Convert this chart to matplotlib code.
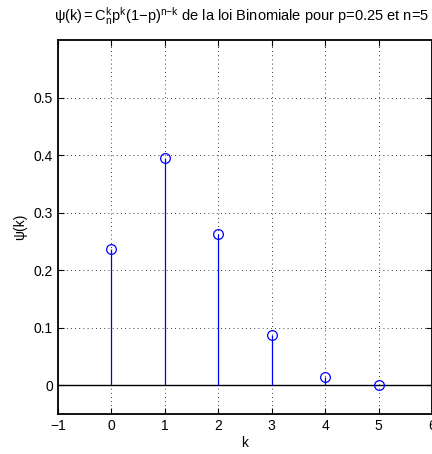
import matplotlib
matplotlib.use('Agg')
import matplotlib.pyplot as plt
from math import comb

n = 5
p = 0.25
k = list(range(n + 1))
psi = [comb(n, i) * p ** i * (1 - p) ** (n - i) for i in k]

plt.rcParams['font.family'] = ['Liberation Sans', 'DejaVu Sans']
plt.rcParams['mathtext.fontset'] = 'custom'
plt.rcParams['mathtext.rm'] = 'Liberation Sans'
plt.rcParams['mathtext.it'] = 'Liberation Sans'
plt.rcParams['mathtext.sf'] = 'Liberation Sans'

fig = plt.figure(figsize=(4.32, 4.54), dpi=100)
ax = fig.add_axes([0.134, 0.088, 0.866, 0.824])

ml, sl, bl = ax.stem(k, psi, linefmt='b-', markerfmt='bo', basefmt='k-')
ml.set_markerfacecolor('none')
ml.set_markersize(7)
ml.set_markeredgewidth(0.9)
sl.set_linewidth(0.9)

ax.set_xlim(-1, 6)
ax.set_ylim(-0.05, 0.6)
# baseline runs across the whole axis like in MATLAB
bl.set_xdata(ax.get_xlim())
bl.set_linewidth(1.0)
bl.set_zorder(1)

ax.set_xticks(range(-1, 7))
ax.set_xticklabels(['\u22121'] + [str(i) for i in range(0, 7)])
ax.set_yticks([0, 0.1, 0.2, 0.3, 0.4, 0.5])
ax.set_yticklabels(['0', '0.1', '0.2', '0.3', '0.4', '0.5'])
ax.grid(True, linestyle=(0, (1, 4)), color='k', linewidth=0.6)
ax.set_axisbelow(True)
ax.tick_params(direction='in', top=True, right=True, labelsize=10, length=4, width=0.8)
for s in ax.spines.values():
    s.set_linewidth(1.3)

ax.set_xlabel('k', fontsize=10, labelpad=2)
ax.set_ylabel('\u03c8(k)', fontsize=10, labelpad=5)
ax.set_title(r'$\mathrm{\psi(k)=C_n^k p^k(1{-}p)^{n{-}k}}$ de la loi Binomiale pour p=0.25 et n=5',
             fontsize=10.5, x=0.49, pad=14)

fig.savefig('out.png', dpi=100)
